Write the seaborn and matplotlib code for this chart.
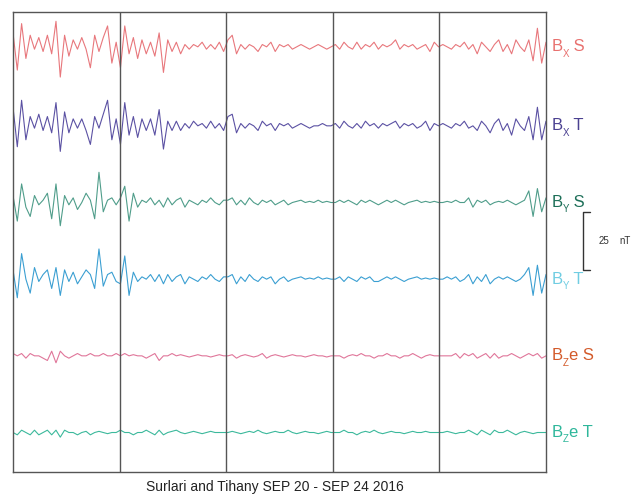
import numpy as np
import pandas as pd
import matplotlib
matplotlib.use("Agg")
import matplotlib.pyplot as plt
import matplotlib.transforms as mtransforms
import seaborn as sns

# Variações (nT), 25 amostras por dia, 5 dias
bx_s = [6, -10, 10, -5, 5, -1, 4, -2, 5, -3, 11, -13, 5, -4, 3, -1, 4, -1, -9, 5, -2, 4, 9, -7, 2,
        -9, 9, -3, 4, -5, 3, -3, 2, -4, 6, -11, 3, -2, 2, -3, 1, -1, 1, 0, 2, -1, 1, -1, 2, -2,
        3, 5, -3, 1, -1, 1, 0, -2, 1, 0, 2, -2, 1, 0, 1, -1, 0, 1, 0, -1, 0, 1, 0, -1, 0,
        1, -1, 2, 0, -1, 2, -1, 1, 0, 2, -1, 1, 0, 1, 3, -1, 1, 0, 1, -1, 0, 1, -2, 2, 0,
        1, 0, -1, 1, 0, 2, -1, 1, -3, 2, 0, -2, 1, 3, -2, 1, -3, 3, 0, -2, 3, -6, 8, -7, 2]
bx_t = [8, -9, 11, -6, 4, -1, 5, -2, 4, -3, 10, -11, 6, -3, 3, -1, 3, -2, -8, 4, -1, 5, 11, -6, 3,
        -8, 10, -4, 4, -5, 3, -2, 3, -4, 7, -10, 2, -2, 2, -2, 1, -1, 2, 0, 1, -1, 2, -1, 1, -2,
        4, 5, -3, 1, -1, 1, 0, -2, 2, 0, 1, -2, 1, 0, 1, -1, 0, 1, 0, -1, 0, 0, 1, 0, 0,
        1, -1, 2, 0, -1, 1, -1, 2, 0, 1, -1, 1, 0, 1, 2, -1, 1, 0, 1, -1, 0, 2, -2, 1, 0,
        1, 0, -1, 1, 0, 2, -1, 0, -2, 2, 0, -3, 1, 3, -2, 1, -4, 3, 0, -2, 4, -6, 8, -6, 2]
by_s = [3, -8, 8, -2, -6, 3, -1, 1, 4, -7, 8, -10, 3, -1, 2, -3, 0, 4, 1, -7, 13, -4, 1, 2, -1,
        2, 7, -8, 4, -2, 1, 0, 2, -1, 1, -2, 2, -1, 1, 2, -2, 1, 0, -1, 1, 0, 2, 0, -1, 1,
        1, 2, -1, 1, -1, 2, 0, -1, 1, 0, 1, -1, 0, 1, -1, 0, 0.5, 1, 0, 0.5, 0, 1, 0, 0.5, 0,
        0, 1, 0, 1, 0, -1, 1, 0, 1, 0, -1, 0, 1, 0, 1, 0, -1, 0, 0.5, 1, 0, 0.5, 0, 0.5, 0,
        0, 0.5, 0, 1, 0, 0, 2, -2, 1, 0, 1, -1, 0, 0.5, 0, 1, 0, -1, 0, 1, 5, -6, 6, -4, 2]
by_t = [4, -8, 11, 0, -6, 5, -1, 2, 4, -4, 5, -7, 4, -1, 3, -2, 1, 4, 2, -4, 13, -3, 2, 3, -1,
        -2, 10, -7, 3, -1, 1, 0, 2, -1, 2, -2, 2, -1, 1, 2, -2, 1, 0, -1, 1, 0, 2, 0, -1, 1,
        1, 2, -2, 1, -1, 2, 0, -1, 1, 0, 1, -2, 0, 1, -1, 0, 0.5, 1, 0, 0.5, 0, 1, 0, 0.5, 0,
        0, 1, -1, 1, 0, -1, 1, 0, 1, -1, -1, 0, 1, 0, 1, 0, -1, 0, 0.5, 1, 0, 0.5, 0, 0.5, 0,
        0, 1, 0, 1, -1, 0, 2, -2, 1, -1, 2, -2, 0, 1, 0, 1, 0, -1, 0, 2, 5, -7, 6, -6, 2]
bze_s = [1, 0, 1, -1, 1, 0, 0, -1, -2, 2, -3, 2, 0, -1, 0, 1, 0, 0, 1, 0, 0, 1, 0, 0, 1,
         0, 1, 0, 0.5, 0, 0, -1, 0, 1, -2, 0, 0, 1, 0, 0.5, 0, -0.5, 0, 0.5, 0, 0, -0.5, 0, 0.5, 0,
         0, 0.5, -1, 0, 0.5, 0, -0.5, 0, 1, -1, 0, 0.5, 0, -0.5, 0, 0.5, 0, 0, -0.5, 0, 0.5, 0, 0, -0.5, 0,
         0, 0, -1, 0, 0.5, 0, 1, 0, 0, -1, 0, 0, 1, 0, 0, -1, 0, 0, 1, 0, -1, 0, 0.5, 0, 0,
         0, 0, 0, 1, -1, 1, 0, 1, -1, 0, 1, -1, 1, -1, 0, 0, 1, 0, -1, 0, 1, 0, 1, -1, 0]
bze_t = [0, -1, 1, 0, -1, 1, -1, 0, 1, -1, 1, -2, 1, 0, 0, -1, 0, 0.5, -1, 0, 0.5, 0, -0.5, 0, 0,
         1, 0, 0, -1, 0, 0, 1, 0, -1, 1, -1, 0, 0.5, 1, 0, -0.5, 0, 0.5, 0, -0.5, 0, 0.5, 0, 0, 0,
         0, 0.5, 0, -0.5, 0, 0.5, 0, 1, 0, -0.5, 0, 0.5, 0, 0, 1, 0, -0.5, 0, 0.5, 0, 0, -0.5, 0, 0.5, 0,
         0, 0, 1, 0, 0, -1, 0, 0.5, 0, 1, 0, -0.5, 0, 0.5, 0, 0, -0.5, 0, 0.5, 0, 0, 0.5, 0, 0, 0,
         0, 0.5, 0, -0.5, 0, 0, 1, 0, -1, 1, 0, -1, 1, 0, 0, 1, 0, -1, 0, 0.5, 0, -0.5, 0, 0, 0]

nomes = ["Bx S", "Bx T", "By S", "By T", "Bze S", "Bze T"]
# rótulo = letra base B + subscrito + resto
subscritos = ["X", "X", "Y", "Y", "Z", "Z"]
restos = [" S", " T", " S", " T", "e S", "e T"]
deslocamentos = [183, 149, 116, 83, 50, 17]  # nível de base de cada traço (nT)
cores_linha = ["#e8777c", "#5b51a3", "#4f9d8a", "#3b9fd2", "#e0769a", "#3cb99c"]
cores_rotulo = ["#e8716f", "#4b4191", "#1d6f58", "#70cde2", "#d35a2a", "#2fb79b"]
dias = 5
escala_nT = 25

series = [bx_s, bx_t, by_s, by_t, bze_s, bze_t]
linhas = []
for nome, s, d in zip(nomes, series, deslocamentos):
    t = np.linspace(0, dias, len(s))
    for ti, v in zip(t, s):
        linhas.append({"dia": ti, "valor": d + v, "traco": nome})
tabela = pd.DataFrame(linhas)

sns.set_style("white")
plt.rcParams["font.family"] = ["Liberation Sans", "DejaVu Sans"]

fig = plt.figure(figsize=(6.38, 4.94), dpi=100)
ax = fig.add_axes([13 / 638, 22 / 494, 533 / 638, 460 / 494])

sns.lineplot(data=tabela, x="dia", y="valor", hue="traco", hue_order=nomes,
             palette=cores_linha, estimator=None, legend=False, linewidth=0.8, ax=ax)

ax.set_xlim(0, dias)
ax.set_ylim(0, 198)
for dx in range(1, dias):
    ax.axvline(dx, color="#555555", linewidth=1)
for sp in ax.spines.values():
    sp.set_color("#555555")
    sp.set_linewidth(1)
ax.set_xticks([])
ax.set_yticks([])
ax.set_xlabel("")
ax.set_ylabel("")

tr = mtransforms.blended_transform_factory(ax.transAxes, ax.transData)

# Rótulos dos traços à direita (B + subscrito pequeno + resto)
for sub, resto, d, c in zip(subscritos, restos, deslocamentos, cores_rotulo):
    ax.annotate("B", xy=(1.01, d), xycoords=tr, fontsize=12, color=c,
                va="center", ha="left", annotation_clip=False)
    ax.annotate(sub, xy=(1.01, d), xycoords=tr, xytext=(8.2, -4.8), textcoords="offset points",
                fontsize=7, color=c, va="center", ha="left", annotation_clip=False)
    ax.annotate(resto, xy=(1.01, d), xycoords=tr, xytext=(12.6, 0), textcoords="offset points",
                fontsize=12, color=c, va="center", ha="left", annotation_clip=False)

# Barra de escala 25 nT
y0, y1 = 87, 87 + escala_nT
ax.plot([1.082, 1.069, 1.069, 1.082], [y1, y1, y0, y0], color="#333333",
        linewidth=1, transform=tr, clip_on=False)
ax.text(1.098, (y0 + y1) / 2, "25", transform=tr, fontsize=7, va="center", ha="left", color="#333333")
ax.text(1.138, (y0 + y1) / 2, "nT", transform=tr, fontsize=7, va="center", ha="left", color="#333333")

fig.text(275 / 638, 1 - 487 / 494, "Surlari and Tihany SEP 20 - SEP 24 2016",
         ha="center", va="center", fontsize=10, color="#222222")

plt.savefig("out.png", dpi=100)
